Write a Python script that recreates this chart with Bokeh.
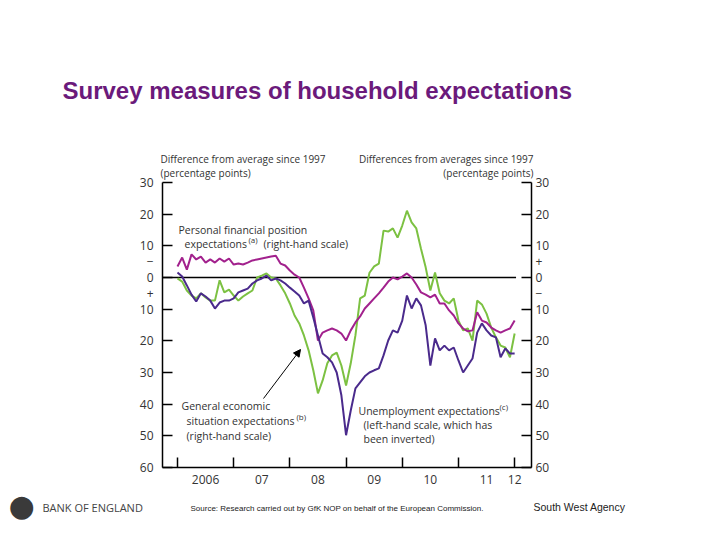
from bokeh.plotting import figure
from bokeh.models import Range1d, LinearAxis, FixedTicker, Label, Arrow, NormalHead
from bokeh.embed import file_html
from bokeh.resources import INLINE

# ---------------- data (monthly, Jan 2006 .. Jan 2012) ----------------
# Unemployment expectations (left-hand scale, inverted), pp difference from average since 1997
unemployment = [-1.6, -0.3, 2.5, 5.4, 7.6, 5.0, 6.0, 7.3, 9.8, 7.9, 7.3, 7.3,
                6.6, 4.7, 4.1, 3.5, 1.9, 0.9, 0.3, -0.6, 0.9, 0.3, 0.9, 1.9,
                3.2, 4.4, 5.7, 8.2, 7.3, 12.6, 18.3, 24.0, 25.2, 26.8, 30.0, 37.2,
                49.8, 42.0, 35.0, 33.1, 31.2, 30.0, 29.3, 28.7, 24.6, 19.9, 16.7, 17.4,
                13.6, 5.7, 9.8, 6.6, 8.8, 15.1, 27.8, 19.2, 23.0, 21.5, 23.0, 22.1,
                26.2, 30.0, 27.8, 25.6, 17.4, 14.5, 16.7, 18.3, 18.9, 25.2, 22.4, 24.0,
                24.0]
# General economic situation expectations (right-hand scale)
general = [-0.3, -1.3, -4.1, -5.7, -6.6, -5.0, -6.3, -7.3, -7.3, -0.9, -4.7, -3.8,
           -5.7, -7.3, -6.0, -5.0, -4.1, 0.0, 0.6, 1.3, 0.0, -0.3, -2.5, -5.0,
           -8.2, -12.0, -14.5, -18.3, -23.0, -29.3, -36.6, -32.5, -27.1, -24.6, -23.7, -27.8,
           -34.1, -27.1, -18.3, -6.6, -5.7, 1.5, 3.5, 4.4, 14.8, 14.5, 15.5, 12.6,
           16.4, 21.1, 17.4, 15.5, 9.1, 3.2, -4.1, 1.6, -5.0, -7.3, -8.2, -6.6,
           -13.6, -16.7, -16.1, -19.9, -7.3, -8.5, -11.4, -15.8, -18.9, -21.5, -22.1, -25.2,
           -17.7]
# Personal financial position expectations (right-hand scale)
personal = [3.5, 6.3, 2.5, 7.3, 5.7, 6.6, 4.7, 5.7, 4.7, 6.0, 5.0, 6.0,
            4.1, 4.4, 4.1, 4.7, 5.4, 5.7, 6.0, 6.3, 6.6, 6.9, 4.4, 3.8,
            2.2, 0.9, 0.0, -3.2, -6.6, -10.4, -19.9, -17.4, -16.7, -16.1, -16.7, -17.7,
            -19.9, -16.7, -14.2, -12.3, -9.8, -8.2, -6.6, -5.0, -3.2, -1.3, 0.0, -0.6,
            0.3, 1.3, 0.0, -2.2, -4.7, -5.4, -6.3, -5.4, -8.2, -8.2, -10.4, -12.0,
            -14.5, -16.1, -17.0, -16.7, -11.0, -13.6, -14.2, -15.8, -16.7, -17.4, -16.7, -16.1,
            -13.6]
months = list(range(len(general)))  # months since Jan 2006

year_labels = ["2006", "07", "08", "09", "10", "11", "12"]
right_ticks = [-60, -50, -40, -30, -20, -10, 0, 10, 20, 30]
left_ticks = [-30, -20, -10, 0, 10, 20, 30, 40, 50, 60]
x_lo, x_hi = -3.2, 75.6          # plotted month window
y_lo, y_hi = -60, 30             # right-hand scale window

# ---------------- geometry (canvas pixels) ----------------
W, H = 704, 524
FL, FR, FT, FB = 162, 531, 182, 467     # chart area edges
kx = (FR - FL) / (x_hi - x_lo)          # px per month
ky = (FB - FT) / (y_hi - y_lo)          # px per point

xr = Range1d(x_lo - FL / kx, x_hi + (W - FR) / kx)
yr = Range1d(y_lo - (H - FB) / ky, y_hi + FT / ky)

FONT = "Open Sans"
TXT = "#333333"

p = figure(width=W, height=H, output_backend="svg", toolbar_location=None,
           x_range=xr, y_range=yr, x_axis_location=None, y_axis_location=None,
           min_border_left=0, min_border_right=0, min_border_top=0, min_border_bottom=0)
# left axis: unemployment, inverted (top = -30 ... bottom = 60)
p.extra_y_ranges = {"unemp": Range1d(start=-(yr.start), end=-(yr.end))}
p.grid.visible = False
p.outline_line_color = None
p.background_fill_color = "white"
p.border_fill_color = "white"

def style_axis(ax):
    ax.axis_line_color = "black"
    ax.axis_line_width = 1.5
    ax.major_tick_line_color = "black"
    ax.major_tick_line_width = 1.5
    ax.minor_tick_line_color = "black"
    ax.minor_tick_line_width = 1.5
    ax.major_tick_in = 0
    ax.major_tick_out = 0
    ax.minor_tick_in = 10
    ax.minor_tick_out = 0
    ax.major_label_text_font = FONT
    ax.major_label_text_font_size = "12px"
    ax.major_label_text_color = TXT

# right axis; +/- signs as zero-length major ticks, tick marks as minor ticks
ra = LinearAxis(fixed_location=x_hi, bounds=(y_lo, y_hi))
ra.ticker = FixedTicker(ticks=right_ticks + [-5, 5], minor_ticks=right_ticks)
ovr = {t: str(abs(t)) for t in right_ticks}
ovr.update({5: "+", -5: "\u2212"})
ra.major_label_overrides = ovr
ra.major_label_standoff = 4
style_axis(ra)
p.add_layout(ra, "right")

# left axis (inverted unemployment scale)
la = LinearAxis(y_range_name="unemp", fixed_location=x_lo, bounds=(-y_hi, -y_lo))
la.ticker = FixedTicker(ticks=left_ticks + [-5, 5], minor_ticks=left_ticks)
ovl = {t: str(abs(t)) for t in left_ticks}
ovl.update({-5: "\u2212", 5: "+"})
la.major_label_overrides = ovl
la.major_label_standoff = 9
style_axis(la)
p.add_layout(la, "left")

# bottom axis: labels mid-year, tick marks at year boundaries
label_pos = [6 + 12 * i for i in range(6)] + [72]
xa = LinearAxis(fixed_location=y_lo, bounds=(x_lo, x_hi))
xa.ticker = FixedTicker(ticks=label_pos, minor_ticks=[12 * i for i in range(7)])
xa.major_label_overrides = {pos: lab for pos, lab in zip(label_pos, year_labels)}
xa.major_label_standoff = 7
style_axis(xa)
p.add_layout(xa, "below")

# zero line
p.segment(x0=[x_lo], y0=[0], x1=[months[-1] + 0.3], y1=[0], line_color="black", line_width=1.5)

p.line(months, general, line_color="#7cc142", line_width=2)
p.line(months, personal, line_color="#a2218d", line_width=2)
p.line(months, unemployment, line_color="#4a2a8c", line_width=2, y_range_name="unemp")

# ---------------- texts (positions in canvas pixels) ----------------
def X(px):
    return xr.start + px / kx

def Y(py):
    return yr.end - py / ky

def lab(px, py, text, size="10.5px", align="left", color=TXT, font=FONT, style="normal"):
    p.add_layout(Label(x=X(px), y=Y(py), text=text, text_font=font, text_font_size=size,
                       text_color=color, text_align=align, text_baseline="middle",
                       text_font_style=style))

lab(62, 90, "Survey measures of household expectations", size="24px",
    color="#6b1a7b", font="Liberation Sans", style="bold")
lab(160, 158, "Difference from average since 1997", size="10px")
lab(160, 172, "(percentage points)", size="10px")
lab(533, 158, "Differences from averages since 1997", size="10px", align="right")
lab(533, 172, "(percentage points)", size="10px", align="right")

lab(178, 229, "Personal financial position")
lab(184, 243, "expectations")
lab(248, 239, "(a)", size="8px")
lab(263, 243, "(right-hand scale)")

lab(181, 405, "General economic")
lab(186, 420, "situation expectations")
lab(296, 416, "(b)", size="8px")
lab(186, 435, "(right-hand scale)")

lab(358, 410, "Unemployment expectations")
lab(499, 406, "(c)", size="8px")
lab(363, 424, "(left-hand scale, which has")
lab(363, 438, "been inverted)")

p.add_layout(Arrow(end=NormalHead(size=7, fill_color="black", line_color="black"),
                   x_start=X(263), y_start=Y(398), x_end=X(300), y_end=Y(349),
                   line_color="black", line_width=1))

# footer
lab(21, 505, "\u25cf", size="30px", align="center", color="#3a3a3a", font="DejaVu Sans")
lab(42, 507, "BANK OF ENGLAND", size="11px", color="#444444")
lab(190, 508, "Source: Research carried out by GfK NOP on behalf of the European Commission.",
    size="8px", color="#222222", font="Liberation Sans")
lab(533, 506, "South West Agency", size="10.5px", color="#222222", font="Liberation Sans")

open("out.html", "w").write(file_html(p, INLINE))
